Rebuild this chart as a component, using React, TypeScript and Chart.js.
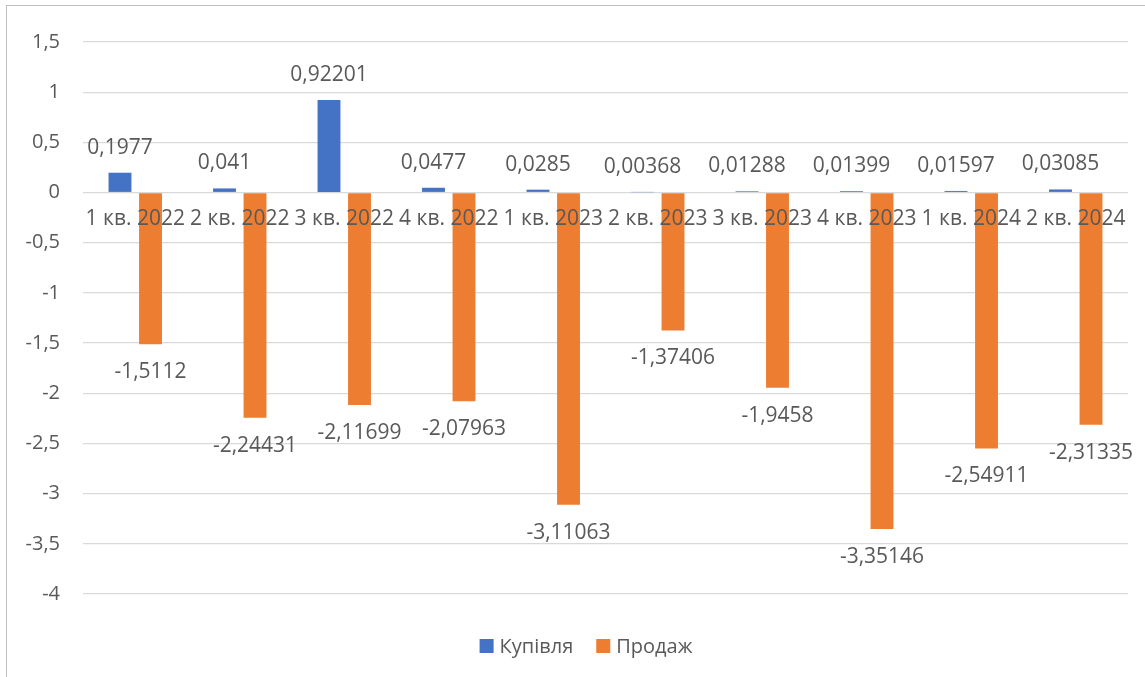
import React, { useEffect, useRef } from "react";
import { Chart, registerables } from "chart.js";

Chart.register(...registerables);

const categories = [
  "1 кв. 2022", "2 кв. 2022", "3 кв. 2022", "4 кв. 2022", "1 кв. 2023",
  "2 кв. 2023", "3 кв. 2023", "4 кв. 2023", "1 кв. 2024", "2 кв. 2024",
];
const buyLabel = "Купівля";
const sellLabel = "Продаж";
const buyValues = [0.1977, 0.041, 0.92201, 0.0477, 0.0285, 0.00368, 0.01288, 0.01399, 0.01597, 0.03085];
const sellValues = [-1.5112, -2.24431, -2.11699, -2.07963, -3.11063, -1.37406, -1.9458, -3.35146, -2.54911, -2.31335];
const yMin = -4;
const yMax = 1.5;
const yStep = 0.5;

const FONT = "'Open Sans', 'Noto Sans', sans-serif";
const TEXT = "#595959";

const fmt = (v: number) => String(v).replace(".", ",");

const customPlugin = {
  id: "excelLook",
  beforeDraw(chart: any) {
    const ctx = chart.ctx;
    ctx.save();
    ctx.fillStyle = "#ffffff";
    ctx.fillRect(0, 0, chart.width, chart.height);
    ctx.strokeStyle = "#BFBFBF";
    ctx.lineWidth = 1;
    ctx.strokeRect(6.5, 5.5, chart.width + 50, chart.height + 50);
    ctx.restore();
  },
  afterDatasetsDraw(chart: any) {
    const ctx = chart.ctx;
    const xs = chart.scales.x;
    const ys = chart.scales.y;
    const zeroY = ys.getPixelForValue(0);
    ctx.save();
    ctx.font = `21px ${FONT}`;
    ctx.fillStyle = TEXT;
    ctx.textAlign = "center";
    ctx.textBaseline = "middle";
    chart.data.labels.forEach((lab: string, i: number) => {
      ctx.fillText(lab, xs.getPixelForValue(i), zeroY + 26);
    });
    chart.data.datasets.forEach((ds: any, di: number) => {
      const meta = chart.getDatasetMeta(di);
      meta.data.forEach((el: any, i: number) => {
        const v = ds.data[i];
        const y = v >= 0 ? el.y - 25 : el.y + 28;
        ctx.fillText(fmt(v), el.x, y);
      });
    });
    // legend
    ctx.font = `20px ${FONT}`;
    const items = chart.data.datasets.map((ds: any) => ({ text: ds.label, color: ds.backgroundColor }));
    const box = 14;
    const gapBoxText = 6;
    const gapItems = 23;
    const widths = items.map((it: any) => box + gapBoxText + ctx.measureText(it.text).width);
    const total = widths.reduce((a: number, b: number) => a + b, 0) + gapItems * (items.length - 1);
    let x = 586 - total / 2;
    const ly = 646;
    ctx.textAlign = "left";
    items.forEach((it: any, k: number) => {
      ctx.fillStyle = it.color;
      ctx.fillRect(x, ly - box / 2, box, box);
      ctx.fillStyle = TEXT;
      ctx.fillText(it.text, x + box + gapBoxText, ly + 1);
      x += widths[k] + gapItems;
    });
    ctx.restore();
  },
};

export default function App() {
  const ref = useRef<HTMLCanvasElement | null>(null);
  useEffect(() => {
    document.body.style.margin = "0";
    if (!ref.current) return;
    const chart = new Chart(ref.current, {
      type: "bar",
      data: {
        labels: categories,
        datasets: [
          { label: buyLabel, data: buyValues, backgroundColor: "#4472C4", categoryPercentage: 0.584, barPercentage: 0.75 },
          { label: sellLabel, data: sellValues, backgroundColor: "#ED7D31", categoryPercentage: 0.584, barPercentage: 0.75 },
        ],
      },
      options: {
        animation: false,
        responsive: false,
        maintainAspectRatio: false,
        devicePixelRatio: 1,
        layout: { padding: { top: 42, right: 17, bottom: 83, left: 0 } },
        plugins: { legend: { display: false }, tooltip: { enabled: false } },
        scales: {
          x: { display: false },
          y: {
            min: yMin,
            max: yMax,
            ticks: {
              stepSize: yStep,
              padding: 23,
              color: TEXT,
              font: { family: FONT, size: 20 },
              callback: (v: any) => fmt(Number(v)),
            },
            grid: { color: "#D9D9D9", lineWidth: 1.3, drawTicks: false },
            border: { display: false },
            afterFit: (s: any) => { s.width = 83; },
          },
        },
      },
      plugins: [customPlugin],
    });
    return () => chart.destroy();
  }, []);
  return (
    <div style={{ position: "fixed", left: 0, top: 0, width: 1145, height: 677 }}>
      <canvas ref={ref} width={1145} height={677} style={{ width: 1145, height: 677 }} />
    </div>
  );
}
